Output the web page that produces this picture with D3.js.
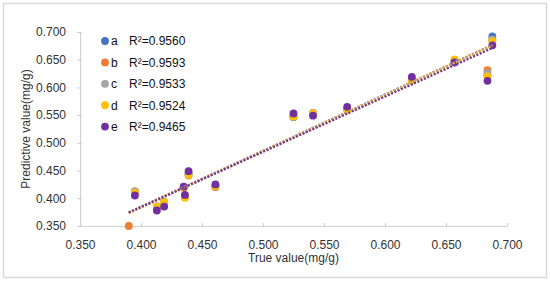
<!DOCTYPE html>
<html><head><meta charset="utf-8">
<script src="https://cdn.jsdelivr.net/npm/d3@7"></script>
<style>
html,body{margin:0;padding:0;background:#fff;}
text{font-family:"Liberation Sans",Arial,sans-serif;}
</style></head>
<body>
<svg id="chart" width="550" height="283"></svg>
<script>
// ---- data ----
const trueValues = [0.390, 0.395, 0.413, 0.419, 0.435, 0.436, 0.439, 0.461, 0.525, 0.541, 0.569, 0.622, 0.657, 0.684, 0.688];
const seriesA = [0.343, 0.412, 0.384, 0.392, 0.420, 0.404, 0.444, 0.423, 0.546, 0.552, 0.561, 0.614, 0.648, 0.622, 0.692];
const seriesB = [0.350, 0.410, 0.383, 0.390, 0.420, 0.402, 0.441, 0.420, 0.548, 0.554, 0.560, 0.613, 0.650, 0.631, 0.686];
const seriesC = [0.343, 0.413, 0.386, 0.394, 0.420, 0.404, 0.445, 0.421, 0.548, 0.554, 0.562, 0.614, 0.648, 0.626, 0.686];
const seriesD = [0.343, 0.410, 0.385, 0.393, 0.419, 0.401, 0.442, 0.422, 0.547, 0.553, 0.559, 0.612, 0.650, 0.620, 0.683];
const seriesE = [0.343, 0.405, 0.378, 0.385, 0.421, 0.406, 0.449, 0.425, 0.553, 0.549, 0.565, 0.619, 0.645, 0.612, 0.676];
const seriesNames = ["a", "b", "c", "d", "e"];
const r2Labels = ["R²=0.9560", "R²=0.9593", "R²=0.9533", "R²=0.9524", "R²=0.9465"];
const colors = ["#4472C4", "#ED7D31", "#A5A5A5", "#FFC000", "#7030A0"];
const tickValues = [0.350, 0.400, 0.450, 0.500, 0.550, 0.600, 0.650, 0.700];
const xTitle = "True value(mg/g)";
const yTitle = "Predictive value(mg/g)";

const allSeries = [seriesA, seriesB, seriesC, seriesD, seriesE];

const svg = d3.select("#chart");
// chart border
svg.append("rect").attr("x", 3.5).attr("y", 3.5).attr("width", 543).attr("height", 274)
  .attr("fill", "#fff").attr("stroke", "#d9d9d9").attr("stroke-width", 1.5);

const L = 80, R = 507, T = 32, B = 226;
const x = d3.scaleLinear().domain([0.35, 0.70]).range([L, R]);
const y = d3.scaleLinear().domain([0.35, 0.70]).range([B, T]);

const axisColor = "#cfcfcf";
// x axis
const gx = svg.append("g").attr("transform", `translate(0,${B})`)
  .call(d3.axisBottom(x).tickValues(tickValues).tickFormat(d3.format(".3f")).tickSize(0).tickPadding(14));
gx.select(".domain").attr("stroke", axisColor).attr("stroke-width", 1.2);
gx.selectAll(".tick line").attr("y1", -3).attr("y2", 0).attr("stroke", axisColor);
gx.selectAll(".tick text").attr("font-size", 12).attr("fill", "#333").attr("font-family", "Liberation Sans, Arial, sans-serif");
gx.selectAll(".tick").each(function(){ d3.select(this).select("line").attr("x1",0).attr("x2",0); });

// y axis
const gy = svg.append("g").attr("transform", `translate(${L},0)`)
  .call(d3.axisLeft(y).tickValues(tickValues).tickFormat(d3.format(".3f")).tickSize(0).tickPadding(14));
gy.select(".domain").attr("stroke", axisColor).attr("stroke-width", 1.2);
gy.selectAll(".tick line").attr("x1", -3).attr("x2", 2).attr("stroke", axisColor);
gy.selectAll(".tick text").attr("font-size", 12).attr("fill", "#333").attr("font-family", "Liberation Sans, Arial, sans-serif");

// axis titles
svg.append("text").attr("x", (L + R) / 2).attr("y", 262).attr("text-anchor", "middle")
  .attr("font-size", 12).attr("fill", "#333").text(xTitle);
svg.append("text").attr("transform", `translate(29.5,${(T + B) / 2}) rotate(-90)`).attr("text-anchor", "middle")
  .attr("font-size", 12).attr("fill", "#333").text(yTitle);

// points
const inRange = v => v >= 0.35 - 1e-9 && v <= 0.70;
allSeries.forEach((s, i) => {
  svg.append("g").selectAll("circle")
    .data(trueValues.map((tv, j) => ({ x: tv, y: s[j] })).filter(d => d.y != null && inRange(d.y)))
    .join("circle")
    .attr("cx", d => x(d.x)).attr("cy", d => y(d.y)).attr("r", 3.9)
    .attr("fill", colors[i]);
});

// trendlines (least squares)
allSeries.forEach((s, i) => {
  const pts = trueValues.map((tv, j) => [tv, s[j]]);
  const mx = d3.mean(pts, p => p[0]), my = d3.mean(pts, p => p[1]);
  const sxy = d3.sum(pts, p => (p[0] - mx) * (p[1] - my));
  const sxx = d3.sum(pts, p => (p[0] - mx) ** 2);
  const k = sxy / sxx, b = my - k * mx;
  const [x0, x1] = d3.extent(trueValues);
  svg.append("path")
    .attr("d", d3.line()([[x(x0), y(k * x0 + b)], [x(x1), y(k * x1 + b)]]))
    .attr("stroke", colors[i]).attr("stroke-width", 2.2).attr("fill", "none")
    .attr("stroke-dasharray", "2,1.6");
});

// legend
const lg = svg.append("g");
seriesNames.forEach((n, i) => {
  const cy = 41 + i * 21.4;
  lg.append("circle").attr("cx", 105).attr("cy", cy).attr("r", 3.9).attr("fill", colors[i]);
  lg.append("text").attr("x", 111).attr("y", cy + 4.3).attr("font-size", 12).attr("fill", "#111").text(n);
  lg.append("text").attr("x", 129).attr("y", cy + 4.3).attr("font-size", 12).attr("fill", "#111").text(r2Labels[i]);
});
</script>
</body></html>
